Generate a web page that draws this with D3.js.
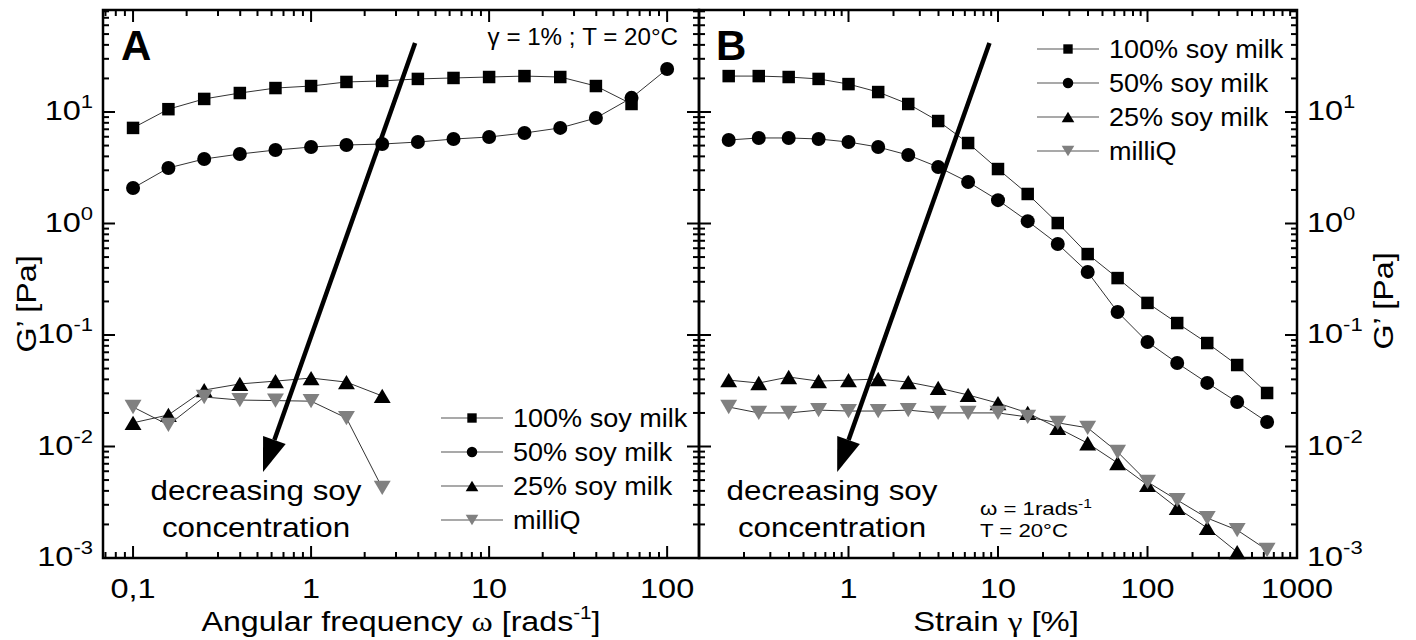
<!DOCTYPE html>
<html>
<head>
<meta charset="utf-8">
<script src="https://cdn.jsdelivr.net/npm/d3@7"></script>
<style>
body{margin:0;background:#fff;}
svg{display:block;font-family:"Liberation Sans",Arial,sans-serif;}
</style>
</head>
<body>
<svg id="chart" width="1416" height="640"></svg>
<script>
//Panel A: frequency sweep (gamma = 1%)
const freqA = [0.1, 0.158, 0.251, 0.398, 0.631, 1, 1.58, 2.51, 3.98, 6.31, 10, 15.8, 25.1, 39.8, 63.1, 100];
const A_soy100 = [7.2, 10.6, 13.1, 14.8, 16.4, 17.1, 18.6, 19.0, 19.8, 20.2, 20.6, 21.0, 20.6, 17.1, 11.8];
const A_soy50 = [2.08, 3.15, 3.79, 4.20, 4.56, 4.85, 5.06, 5.16, 5.38, 5.72, 5.97, 6.48, 7.2, 8.83, 13.4, 24.3];
const A_soy25 = [0.0163, 0.0192, 0.0321, 0.0364, 0.0386, 0.0411, 0.0378, 0.0284];
const A_milliQ = [0.0226, 0.0156, 0.0278, 0.0261, 0.0258, 0.0255, 0.0180, 0.00425];

//Panel B: strain sweep (omega = 1 rad/s)
const strainB = [0.158, 0.251, 0.398, 0.631, 1, 1.58, 2.51, 3.98, 6.31, 10, 15.8, 25.1, 39.8, 63.1, 100, 158, 251, 398, 631];
const B_soy100 = [21.0, 21.0, 20.6, 19.8, 17.8, 15.1, 11.8, 8.30, 5.27, 3.08, 1.84, 1.01, 0.532, 0.324, 0.194, 0.128, 0.0847, 0.0538, 0.0302];
const B_soy50 = [5.61, 5.85, 5.85, 5.73, 5.38, 4.85, 4.11, 3.21, 2.36, 1.62, 1.05, 0.655, 0.367, 0.161, 0.0865, 0.0561, 0.0372, 0.0251, 0.0166];
const B_soy25 = [0.0394, 0.0371, 0.0420, 0.0386, 0.0394, 0.0403, 0.0378, 0.0335, 0.0290, 0.0245, 0.0200, 0.0147, 0.0107, 0.00711, 0.00452, 0.00281, 0.00186, 0.00113];
const B_milliQ = [0.0226, 0.0200, 0.0200, 0.0212, 0.0208, 0.0208, 0.0212, 0.0200, 0.0200, 0.0200, 0.0184, 0.0163, 0.0147, 0.00893, 0.00481, 0.00331, 0.00228, 0.00178, 0.00118];

const seriesNames = ["100% soy milk", "50% soy milk", "25% soy milk", "milliQ"];
const seriesShapes = ["square", "circle", "up", "down"];
const seriesFills = ["#000", "#000", "#000", "#808080"];

const xTicksA = [0.1, 1, 10, 100];
const xTickTextA = ["0,1", "1", "10", "100"];
const xTicksB = [1, 10, 100, 1000];
const xTickTextB = ["1", "10", "100", "1000"];
const yTickExp = [-3, -2, -1, 0, 1];

const svg = d3.select("#chart");

//scales
const yTop = 10, yBot = 558;
const y = d3.scaleLog().domain([1e-3, 82.2]).range([yBot, yTop]);
const xA = d3.scaleLog().domain([0.0678, 151]).range([103, 699]);
const xB = d3.scaleLog().domain([0.1, 1000]).range([699, 1297]);

//text helper, the original lettering is a bit wider than Arial
function txt(parent, x, yy, size, sx, anchor, rot){
    const g = parent.append("g")
        .attr("transform", "translate(" + x + "," + yy + ")" + (rot ? " rotate(" + rot + ")" : "") + " scale(" + sx + ",1)");
    return g.append("text")
        .attr("font-size", size)
        .attr("text-anchor", anchor || "start")
        .attr("fill", "#000");
}

function logTicks(scale){
    const d = scale.domain();
    const out = [];
    for(let e = Math.floor(Math.log10(d[0])); e <= Math.ceil(Math.log10(d[1])); e++){
        for(let m = 1; m <= 9; m++){
            const v = m * Math.pow(10, e);
            if(v >= d[0] * 0.999 && v <= d[1] * 1.001) out.push({v: v, major: m === 1});
        }
    }
    return out;
}

function marker(shape, s){
    if(shape === "square") return "M" + (-s/2) + "," + (-s/2) + "h" + s + "v" + s + "h" + (-s) + "Z";
    if(shape === "circle"){
        const r = s/2;
        return "M" + (-r) + ",0a" + r + "," + r + " 0 1,0 " + (2*r) + ",0a" + r + "," + r + " 0 1,0 " + (-2*r) + ",0Z";
    }
    const w = s * 1.3, h = s * 1.1;
    if(shape === "up") return "M0," + (-h/2) + "L" + (w/2) + "," + (h/2) + "L" + (-w/2) + "," + (h/2) + "Z";
    return "M0," + (h/2) + "L" + (w/2) + "," + (-h/2) + "L" + (-w/2) + "," + (-h/2) + "Z";
}

const markerSize = {square: 12.5, circle: 14, up: 13, down: 13};

function drawFrame(x){
    const [x0, x1] = x.range();
    const g = svg.append("g");
    const tickG = g.append("g").attr("stroke", "#000").attr("stroke-width", 2);
    logTicks(x).forEach(function(t){
        const L = t.major ? 12 : 6;
        const px = x(t.v);
        tickG.append("line").attr("x1", px).attr("x2", px).attr("y1", yBot).attr("y2", yBot - L);
        tickG.append("line").attr("x1", px).attr("x2", px).attr("y1", yTop).attr("y2", yTop + L);
    });
    logTicks(y).forEach(function(t){
        const L = t.major ? 12 : 6;
        const py = y(t.v);
        tickG.append("line").attr("x1", x0).attr("x2", x0 + L).attr("y1", py).attr("y2", py);
        tickG.append("line").attr("x1", x1).attr("x2", x1 - L).attr("y1", py).attr("y2", py);
    });
    g.append("rect")
        .attr("x", x0).attr("y", yTop)
        .attr("width", x1 - x0).attr("height", yBot - yTop)
        .attr("fill", "none").attr("stroke", "#000").attr("stroke-width", 2.5);
}

function drawSeries(x, xs, ys, idx){
    const pts = ys.map((v, i) => [xs[i], v]);
    const line = d3.line().x(d => x(d[0])).y(d => y(d[1]));
    svg.append("path")
        .attr("d", line(pts))
        .attr("fill", "none")
        .attr("stroke", "#333")
        .attr("stroke-width", 1);
    const shape = seriesShapes[idx];
    svg.append("g").selectAll("path")
        .data(pts)
        .enter()
        .append("path")
        .attr("transform", d => "translate(" + x(d[0]) + "," + y(d[1]) + ")")
        .attr("d", marker(shape, markerSize[shape]))
        .attr("fill", seriesFills[idx]);
}

function drawLegend(cx, y0, dy){
    seriesNames.forEach(function(name, i){
        const yy = y0 + i * dy;
        svg.append("line")
            .attr("x1", cx - 31).attr("x2", cx + 31)
            .attr("y1", yy).attr("y2", yy)
            .attr("stroke", "#555").attr("stroke-width", 1.2);
        const shape = seriesShapes[i];
        svg.append("path")
            .attr("transform", "translate(" + cx + "," + yy + ")")
            .attr("d", marker(shape, markerSize[shape] * 0.75))
            .attr("fill", seriesFills[i]);
        txt(svg, cx + 41, yy + 9, 26, 1.04).text(name);
    });
}

function drawArrow(x, from, to){
    const x1 = x(from[0]), y1 = y(from[1]), x2 = x(to[0]), y2 = y(to[1]);
    const ang = Math.atan2(y2 - y1, x2 - x1);
    const hl = 34, hw = 12;
    const bx = x2 - hl * Math.cos(ang), by = y2 - hl * Math.sin(ang);
    svg.append("line")
        .attr("x1", x1).attr("y1", y1).attr("x2", bx).attr("y2", by)
        .attr("stroke", "#000").attr("stroke-width", 4.5);
    const px = -Math.sin(ang) * hw, py = Math.cos(ang) * hw;
    svg.append("path")
        .attr("d", "M" + x2 + "," + y2 + "L" + (bx + px) + "," + (by + py) + "L" + (bx - px) + "," + (by - py) + "Z")
        .attr("fill", "#000");
}

function yLabel(x, yy, e, anchor){
    const t = txt(svg, x, yy + 8, 28, 1.16, anchor);
    t.append("tspan").text("10");
    t.append("tspan").attr("font-size", 19).attr("dy", -12).text(e);
}

//frames
drawFrame(xA);
drawFrame(xB);

//series
const A_sets = [A_soy100, A_soy50, A_soy25, A_milliQ];
const B_sets = [B_soy100, B_soy50, B_soy25, B_milliQ];
A_sets.forEach((s, i) => drawSeries(xA, freqA, s, i));
B_sets.forEach((s, i) => drawSeries(xB, strainB, s, i));

//tick labels
xTicksA.forEach((v, i) => txt(svg, xA(v), 598, 28, 1.16, "middle").text(xTickTextA[i]));
xTicksB.forEach((v, i) => txt(svg, xB(v), 598, 28, 1.16, "middle").text(xTickTextB[i]));
yTickExp.forEach(function(e){
    yLabel(93, y(Math.pow(10, e)), e, "end");
    yLabel(1307, y(Math.pow(10, e)), e, "start");
});

//axis titles
const tA = txt(svg, 401, 631, 28, 1.15, "middle");
tA.append("tspan").text("Angular frequency ");
tA.append("tspan").attr("font-family", "Liberation Serif, serif").text("\u03c9");
tA.append("tspan").text(" [rads");
tA.append("tspan").attr("font-size", 18).attr("dy", -12).text("-1");
tA.append("tspan").attr("dy", 12).text("]");

const tB = txt(svg, 996, 631, 28, 1.17, "middle");
tB.append("tspan").text("Strain ");
tB.append("tspan").attr("font-family", "Liberation Serif, serif").text("\u03b3");
tB.append("tspan").text(" [%]");

txt(svg, 36, 304, 28, 1.15, "middle", -90).text("G\u2019 [Pa]");
txt(svg, 1393, 301, 28, 1.15, "middle", -90).text("G\u2019 [Pa]");

//panel letters
txt(svg, 121, 60, 42, 1, "start").attr("font-weight", "bold").text("A");
txt(svg, 716, 60, 42, 1, "start").attr("font-weight", "bold").text("B");

//conditions
txt(svg, 678, 45, 23, 1.05, "end").text("\u03b3 = 1% ; T = 20\u00b0C");
const om = txt(svg, 980, 515, 18.5, 1.2, "start");
om.append("tspan").text("\u03c9 = 1rads");
om.append("tspan").attr("font-size", 13).attr("dy", -7).text("-1");
txt(svg, 980, 537, 18.5, 1.2, "start").text("T = 20\u00b0C");

//arrows and notes
drawArrow(xA, [3.84, 41.6], [0.537, 0.0059]);
drawArrow(xB, [8.77, 41.6], [0.84, 0.0059]);
[[256, "decreasing soy"], [256, "concentration"]].forEach((d, i) => txt(svg, d[0], 500 + i * 37, 28, 1.12, "middle").text(d[1]));
[[832, "decreasing soy"], [832, "concentration"]].forEach((d, i) => txt(svg, d[0], 500 + i * 37, 28, 1.12, "middle").text(d[1]));

//legends
drawLegend(472, 418, 34);
drawLegend(1068, 49, 34);
</script>
</body>
</html>
